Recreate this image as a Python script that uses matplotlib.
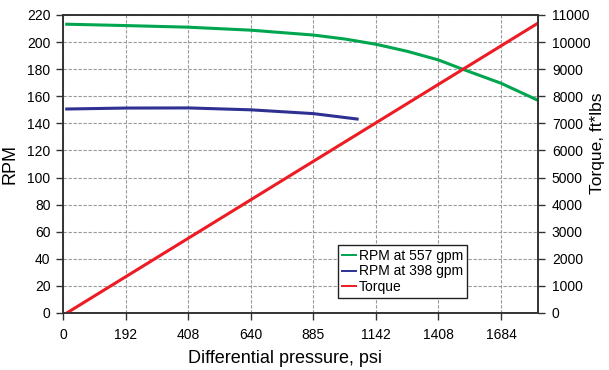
import matplotlib
matplotlib.use("Agg")
import matplotlib.pyplot as plt
from matplotlib import font_manager

names = {f.name for f in font_manager.fontManager.ttflist}
fam = "Liberation Sans Narrow" if "Liberation Sans Narrow" in names else "Liberation Sans"
plt.rcParams['font.family'] = [fam, 'DejaVu Sans']

# categorical pressure tick labels (evenly spaced positions)
tick_labels = ["0", "192", "408", "640", "885", "1142", "1408", "1684"]

# RPM at 557 gpm (x in tick-index units)
x_557 = [0.06, 1, 2, 3, 4, 4.5, 5, 5.5, 6, 6.35, 7, 7.59]
rpm_557 = [213.2, 212.2, 211.0, 208.8, 205.2, 202.3, 198.4, 193.2, 186.8, 180.6, 169.6, 157.0]

# RPM at 398 gpm
x_398 = [0.06, 1, 2, 3, 4, 4.7]
rpm_398 = [150.6, 151.3, 151.4, 150.0, 147.2, 143.2]

# Torque
x_tq = [0.06, 7.59]
torque = [0, 10700]

fig = plt.figure(figsize=(6.09, 3.70), dpi=100)
ax = fig.add_axes([63/609, 57/370, (538-63)/609, (313-15)/370])
ax2 = ax.twinx()

green = "#00a550"
blue = "#2e3192"
red = "#ed1c24"

l1, = ax.plot(x_557, rpm_557, color=green, lw=2.2, label="RPM at 557 gpm",
              solid_joinstyle="round")
l2, = ax.plot(x_398, rpm_398, color=blue, lw=2.2, label="RPM at 398 gpm",
              solid_joinstyle="round")
l3, = ax2.plot(x_tq, torque, color=red, lw=2.2, label="Torque")

ax.set_xlim(0, 7.59)
ax.set_ylim(0, 220)
ax2.set_ylim(0, 11000)
ax.set_xticks(range(len(tick_labels)))
ax.set_xticklabels(tick_labels)
ax.set_yticks(range(0, 221, 20))
ax2.set_yticks(range(0, 11001, 1000))

ax.grid(True, color="#999999", linestyle=(0, (3, 1.5)), lw=0.8)
ax.set_axisbelow(True)

for a in (ax, ax2):
    a.tick_params(labelsize=10, direction="out", length=5, width=1,
                  color="#333333")
    for s in a.spines.values():
        s.set_color("#333333")
        s.set_linewidth(1.2)
ax.tick_params(axis="x", pad=6)
ax.tick_params(axis="y", pad=4)
ax2.tick_params(axis="y", pad=5)

ax.set_xlabel("Differential pressure, psi", fontsize=13, labelpad=7)
ax.xaxis.set_label_coords((285-63)/475, -0.125)
ax.set_ylabel("RPM", fontsize=13, labelpad=6)
ax2.set_ylabel("Torque, ft*lbs", fontsize=12.5, labelpad=6)
ax2.yaxis.set_label_coords(1.0 + (590-538)/475, (313-143)/298)

leg = ax2.legend(handles=[l1, l2, l3], loc="lower left",
                 bbox_to_anchor=((337.5-63)/475, (313-298.3)/298),
                 fontsize=10, frameon=True, fancybox=False, framealpha=1,
                 edgecolor="#222222", handlelength=1.05, handletextpad=0.2,
                 borderpad=0.3, labelspacing=0.12, borderaxespad=0)
leg.get_frame().set_linewidth(1.0)
for h in leg.legend_handles:
    h.set_linewidth(1.4)

fig.savefig("out.png", dpi=100)
